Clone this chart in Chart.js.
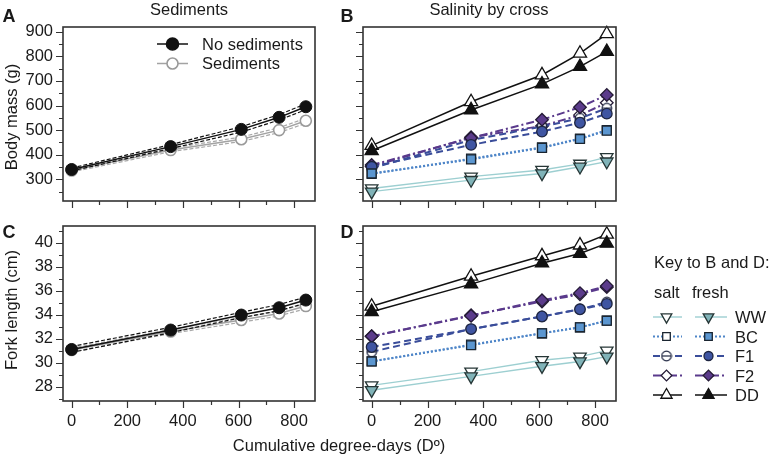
<!DOCTYPE html>
<html><head><meta charset="utf-8">
<script src="https://cdn.jsdelivr.net/npm/chart.js@4.4.1/dist/chart.umd.min.js"></script>
<style>
html,body{margin:0;padding:0;background:#fff;}
#wrap{position:relative;width:772px;height:454px;overflow:hidden;font-family:"Liberation Sans",Arial,Helvetica,sans-serif;color:#1a1a1a;}
canvas{position:absolute;}
.t{position:absolute;white-space:nowrap;font-size:16.5px;line-height:1;}
.c{transform:translate(-50%,-50%);}
.l{transform:translate(0,-50%);}
.r{transform:translate(-50%,-50%) rotate(-90deg);}
.b{font-weight:bold;font-size:18px;}
</style></head><body>
<div id="wrap">
<canvas id="cA" width="340" height="215" style="left:0;top:0"></canvas>
<canvas id="cB" width="432" height="215" style="left:340px;top:0"></canvas>
<canvas id="cC" width="340" height="239" style="left:0;top:215px"></canvas>
<canvas id="cD" width="432" height="239" style="left:340px;top:215px"></canvas>

<div class="t c" style="left:189px;top:9px">Sediments</div>
<div class="t c" style="left:489px;top:9px">Salinity by cross</div>
<div class="t c b" style="left:9px;top:16px">A</div>
<div class="t c b" style="left:347px;top:16px">B</div>
<div class="t c b" style="left:9px;top:232px">C</div>
<div class="t c b" style="left:347px;top:232px">D</div>
<div class="t r" style="left:11px;top:117px">Body mass (g)</div>
<div class="t r" style="left:11px;top:310px">Fork length (cm)</div>
<div class="t l" style="left:202px;top:44px">No sediments</div>
<div class="t l" style="left:202px;top:63px">Sediments</div>
<div class="t c" style="left:339px;top:445px">Cumulative degree-days (Dº)</div>
<div class="t l" style="left:654px;top:262px">Key to B and D:</div>
<div class="t l" style="left:654px;top:292px">salt</div>
<div class="t l" style="left:692px;top:292px">fresh</div>
<div id="keyLabels"></div>
</div>
<script>
// ---------- data ----------
const degreeDays = [0, 356, 610, 746, 842];
const xTickLabels = [0, 200, 400, 600, 800];
const xMinorTicks = [100, 300, 500, 700];
const massTicks = [300, 400, 500, 600, 700, 800, 900];
const massMinorTicks = [250, 350, 450, 550, 650, 750, 850];
const lengthTicks = [28, 30, 32, 34, 36, 38, 40];
const lengthMinorTicks = [27, 29, 31, 33, 35, 37, 39, 41];

// Panel A: body mass, sediments
const massNoSed      = [340, 433, 503, 552, 595];
const massNoSedUpper = [346, 441, 514, 563, 607];
const massNoSedLower = [334, 425, 492, 541, 583];
const massSed        = [336, 419, 463, 500, 538];
const massSedUpper   = [342, 426, 472, 510, 548];
const massSedLower   = [330, 412, 454, 490, 528];

// Panel C: fork length, sediments
const lenNoSed      = [31.1, 32.72, 33.97, 34.58, 35.22];
const lenNoSedUpper = [31.35, 32.95, 34.2, 34.85, 35.47];
const lenNoSedLower = [30.85, 32.5, 33.75, 34.33, 34.97];
const lenSed        = [31.05, 32.6, 33.56, 34.1, 34.72];
const lenSedUpper   = [31.2, 32.78, 33.75, 34.3, 34.92];
const lenSedLower   = [30.9, 32.42, 33.37, 33.9, 34.5];

// Panel B: body mass by cross (salt / fresh)
const crosses = ['WW', 'BC', 'F1', 'F2', 'DD'];
const massSalt = {
  WW: [263, 311, 338, 363, 390],
  BC: [322, 384, 430, 466, 500],
  F1: [345, 460, 514, 548, 589],
  F2: [352, 471, 517, 561, 611],
  DD: [437, 615, 724, 812, 891]
};
const massFresh = {
  WW: [250, 297, 324, 351, 372],
  BC: [324, 381, 428, 464, 498],
  F1: [351, 440, 494, 530, 567],
  F2: [358, 468, 542, 593, 643],
  DD: [416, 582, 687, 758, 819]
};
// Panel D: fork length by cross
const lenSalt = {
  WW: [28.1, 29.25, 30.2, 30.5, 31.0],
  BC: [30.1, 31.5, 32.45, 32.95, 33.5],
  F1: [30.9, 32.8, 33.85, 34.45, 35.05],
  F2: [32.2, 33.95, 35.1, 35.7, 36.3],
  DD: [34.7, 37.2, 38.9, 39.8, 40.7]
};
const lenFresh = {
  WW: [27.7, 28.85, 29.7, 30.1, 30.5],
  BC: [30.1, 31.45, 32.45, 32.95, 33.5],
  F1: [31.3, 32.8, 33.85, 34.45, 34.9],
  F2: [32.2, 33.9, 35.2, 35.8, 36.4],
  DD: [34.25, 36.55, 38.3, 39.1, 39.95]
};

// ---------- styles ----------
const FONT = '"Liberation Sans", Arial, Helvetica, sans-serif';
const INK = '#1a1a1a';
const FRAME = '#333333';

function thetaMarker(border) {
  const c = document.createElement('canvas');
  c.width = 12; c.height = 12;
  const g = c.getContext('2d');
  g.beginPath(); g.arc(6, 6, 4.8, 0, Math.PI * 2);
  g.fillStyle = '#fff'; g.fill();
  g.lineWidth = 1.2; g.strokeStyle = border; g.stroke();
  g.beginPath(); g.moveTo(1.2, 6); g.lineTo(10.8, 6); g.stroke();
  return c;
}

const crossStyle = {
  WW: {line: {borderColor: '#9dcfd1', borderWidth: 1.4, borderDash: []},
       marker: {pointStyle: 'triangle', rotation: 180, radius: 7.2, border: '#263636', fresh: '#80b3b8'}},
  BC: {line: {borderColor: '#4f86c8', borderWidth: 2, borderDash: [2, 2]},
       marker: {pointStyle: 'rect', rotation: 0, radius: 6.3, border: '#1a2530', fresh: '#5b96d0'}},
  F1: {line: {borderColor: '#3a4d9a', borderWidth: 2, borderDash: [7, 4]},
       marker: {pointStyle: 'circle', rotation: 0, radius: 5.3, border: '#1e2540', fresh: '#3f55a2'}},
  F2: {line: {borderColor: '#5a3a8c', borderWidth: 2, borderDash: [8, 3, 2, 3]},
       marker: {pointStyle: 'rectRot', rotation: 0, radius: 6.3, border: '#241a35', fresh: '#5b3b8b'}},
  DD: {line: {borderColor: '#111111', borderWidth: 1.5, borderDash: []},
       marker: {pointStyle: 'triangle', rotation: 0, radius: 7.6, border: '#111111', fresh: '#111111'}}
};
const thetaImg = thetaMarker('#1e2540');

function series(values, line, pt) {
  return Object.assign({
    data: degreeDays.map((x, i) => ({x: x, y: values[i]})),
    tension: 0, clip: false, fill: false
  }, line, pt);
}

// fresh datasets are listed first so their filled markers sit on top
function crossDatasets(salt, fresh) {
  const freshDs = [], saltDs = [];
  crosses.forEach(k => {
    const s = crossStyle[k];
    const m = s.marker;
    freshDs.push(series(fresh[k], s.line, {
      pointStyle: m.pointStyle, rotation: m.rotation,
      pointRadius: m.radius, pointBackgroundColor: m.fresh,
      pointBorderColor: m.border, pointBorderWidth: 1.3
    }));
    saltDs.push(series(salt[k], s.line, {
      pointStyle: k === 'F1' ? thetaImg : m.pointStyle, rotation: m.rotation,
      pointRadius: m.radius, pointBackgroundColor: '#ffffff',
      pointBorderColor: m.border, pointBorderWidth: 1.3
    }));
  });
  return freshDs.concat(saltDs);
}

function sedDatasets(noSed, noUp, noLo, sed, sedUp, sedLo) {
  const dash = {borderWidth: 1.2, borderDash: [4, 2], pointRadius: 0};
  return [
    series(noSed, {borderColor: '#111', borderWidth: 1.5}, {pointRadius: 6, pointBackgroundColor: '#111', pointBorderColor: '#111', pointBorderWidth: 1}),
    series(noUp, Object.assign({borderColor: '#111'}, dash), {}),
    series(noLo, Object.assign({borderColor: '#111'}, dash), {}),
    series(sed, {borderColor: '#a3a3a3', borderWidth: 1.5}, {pointRadius: 5.5, pointBackgroundColor: '#fff', pointBorderColor: '#9a9a9a', pointBorderWidth: 1.6}),
    series(sedUp, Object.assign({borderColor: '#a8a8a8'}, dash), {}),
    series(sedLo, Object.assign({borderColor: '#a8a8a8'}, dash), {})
  ];
}

// frame + major/minor ticks drawn at scale positions
const framePlugin = {
  id: 'frame',
  afterDraw(chart, args, o) {
    const ctx = chart.ctx, a = chart.chartArea, x = chart.scales.x, y = chart.scales.y;
    ctx.save();
    ctx.strokeStyle = FRAME;
    ctx.lineWidth = 1.2;
    ctx.beginPath();
    xTickLabels.forEach(v => { const p = Math.round(x.getPixelForValue(v)) + 0.5; ctx.moveTo(p, a.bottom); ctx.lineTo(p, a.bottom + 7); });
    xMinorTicks.forEach(v => { const p = Math.round(x.getPixelForValue(v)) + 0.5; ctx.moveTo(p, a.bottom); ctx.lineTo(p, a.bottom + 4); });
    o.yMajor.forEach(v => { const p = Math.round(y.getPixelForValue(v)) + 0.5; if (p >= a.top && p <= a.bottom) { ctx.moveTo(a.left, p); ctx.lineTo(a.left - 7, p); } });
    o.yMinor.forEach(v => { const p = Math.round(y.getPixelForValue(v)) + 0.5; if (p >= a.top && p <= a.bottom) { ctx.moveTo(a.left, p); ctx.lineTo(a.left - 4, p); } });
    ctx.stroke();
    ctx.lineWidth = 1.6;
    ctx.strokeRect(a.left, a.top, a.right - a.left, a.bottom - a.top);
    ctx.restore();
  }
};

function makeChart(id, datasets, cfg) {
  return new Chart(document.getElementById(id), {
    type: 'line',
    data: {datasets: datasets},
    options: {
      responsive: false, animation: false, devicePixelRatio: 1,
      layout: {padding: cfg.pad},
      plugins: {legend: {display: false}, tooltip: {enabled: false},
                frame: {yMajor: cfg.yMajor, yMinor: cfg.yMinor}},
      scales: {
        x: {
          type: 'linear', min: -31, max: 875,
          grid: {display: false, drawTicks: false}, border: {display: false},
          ticks: {display: cfg.xLabels, padding: 11, autoSkip: false, maxRotation: 0,
                  color: INK, font: {family: FONT, size: 16.5}},
          afterBuildTicks: s => { s.ticks = xTickLabels.map(v => ({value: v})); },
          afterFit: s => { s.height = cfg.xh; s.paddingLeft = 0; s.paddingRight = 0; s.paddingTop = 0; s.paddingBottom = 0; }
        },
        y: {
          type: 'linear', min: cfg.yMin, max: cfg.yMax,
          grid: {display: false, drawTicks: false}, border: {display: false},
          ticks: {display: cfg.yLabels, padding: 10, autoSkip: false,
                  color: INK, font: {family: FONT, size: 16.5}},
          afterBuildTicks: s => { s.ticks = cfg.yMajor.map(v => ({value: v})); },
          afterFit: s => { s.width = cfg.yw; s.paddingLeft = 0; s.paddingRight = 0; s.paddingTop = 0; s.paddingBottom = 0; }
        }
      }
    },
    plugins: [framePlugin].concat(cfg.extra || [])
  });
}

function drawSymbol(ctx, opts, px, py, fill, stroke) {
  ctx.save();
  ctx.setLineDash([]);
  ctx.fillStyle = fill; ctx.strokeStyle = stroke; ctx.lineWidth = opts.borderWidth;
  Chart.helpers.drawPoint(ctx, opts, px, py);
  ctx.restore();
}

// legend inside panel A
const legendA = {
  id: 'legendA',
  afterDraw(chart) {
    const ctx = chart.ctx;
    const items = [
      {y: 44, color: '#111', fill: '#111', stroke: '#111', r: 6},
      {y: 63.5, color: '#a3a3a3', fill: '#fff', stroke: '#9a9a9a', r: 5.5}
    ];
    items.forEach(it => {
      ctx.save();
      ctx.strokeStyle = it.color; ctx.lineWidth = 1.5;
      ctx.beginPath(); ctx.moveTo(157, it.y); ctx.lineTo(188, it.y); ctx.stroke();
      ctx.restore();
      drawSymbol(ctx, {pointStyle: 'circle', radius: it.r, rotation: 0, borderWidth: 1.6}, 172.5, it.y, it.fill, it.stroke);
    });
  }
};

// key to B and D (drawn on D canvas, which starts at page x=340, y=215)
const keyRowsY = [317, 336.5, 356, 375.5, 395];
const legendD = {
  id: 'legendD',
  afterDraw(chart) {
    const ctx = chart.ctx;
    crosses.forEach((k, i) => {
      const s = crossStyle[k], m = s.marker;
      const y = keyRowsY[i] - 215;
      [[313, 342, 326.5, false], [355, 387, 368.5, true]].forEach(c => {
        ctx.save();
        ctx.strokeStyle = s.line.borderColor; ctx.lineWidth = s.line.borderWidth;
        ctx.setLineDash(s.line.borderDash);
        ctx.beginPath(); ctx.moveTo(c[0], y); ctx.lineTo(c[1], y); ctx.stroke();
        ctx.restore();
        const style = (!c[3] && k === 'F1') ? thetaImg : m.pointStyle;
        drawSymbol(ctx, {pointStyle: style, radius: m.radius * 0.85, rotation: m.rotation, borderWidth: 1.3},
                   c[2], y, c[3] ? m.fresh : '#ffffff', m.border);
      });
    });
  }
};
const keyLabels = document.getElementById('keyLabels');
crosses.forEach((k, i) => {
  const d = document.createElement('div');
  d.className = 't l';
  d.style.left = '735px'; d.style.top = keyRowsY[i] + 'px';
  d.textContent = k;
  keyLabels.appendChild(d);
});

makeChart('cA', sedDatasets(massNoSed, massNoSedUpper, massNoSedLower, massSed, massSedUpper, massSedLower),
  {pad: {left: 0, top: 27, right: 25, bottom: 0}, yw: 63, xh: 14, yMin: 212, yMax: 919,
   yMajor: massTicks, yMinor: massMinorTicks, xLabels: false, yLabels: true, extra: [legendA]});
makeChart('cB', crossDatasets(massSalt, massFresh),
  {pad: {left: 0, top: 27, right: 156, bottom: 0}, yw: 23, xh: 14, yMin: 212, yMax: 919,
   yMajor: massTicks, yMinor: massMinorTicks, xLabels: false, yLabels: false});
makeChart('cC', sedDatasets(lenNoSed, lenNoSedUpper, lenNoSedLower, lenSed, lenSedUpper, lenSedLower),
  {pad: {left: 0, top: 11, right: 25, bottom: 0}, yw: 63, xh: 53, yMin: 26.8, yMax: 41.4,
   yMajor: lengthTicks, yMinor: lengthMinorTicks, xLabels: true, yLabels: true});
makeChart('cD', crossDatasets(lenSalt, lenFresh),
  {pad: {left: 0, top: 11, right: 156, bottom: 0}, yw: 23, xh: 53, yMin: 26.8, yMax: 41.4,
   yMajor: lengthTicks, yMinor: lengthMinorTicks, xLabels: true, yLabels: false, extra: [legendD]});
</script>
</body></html>
